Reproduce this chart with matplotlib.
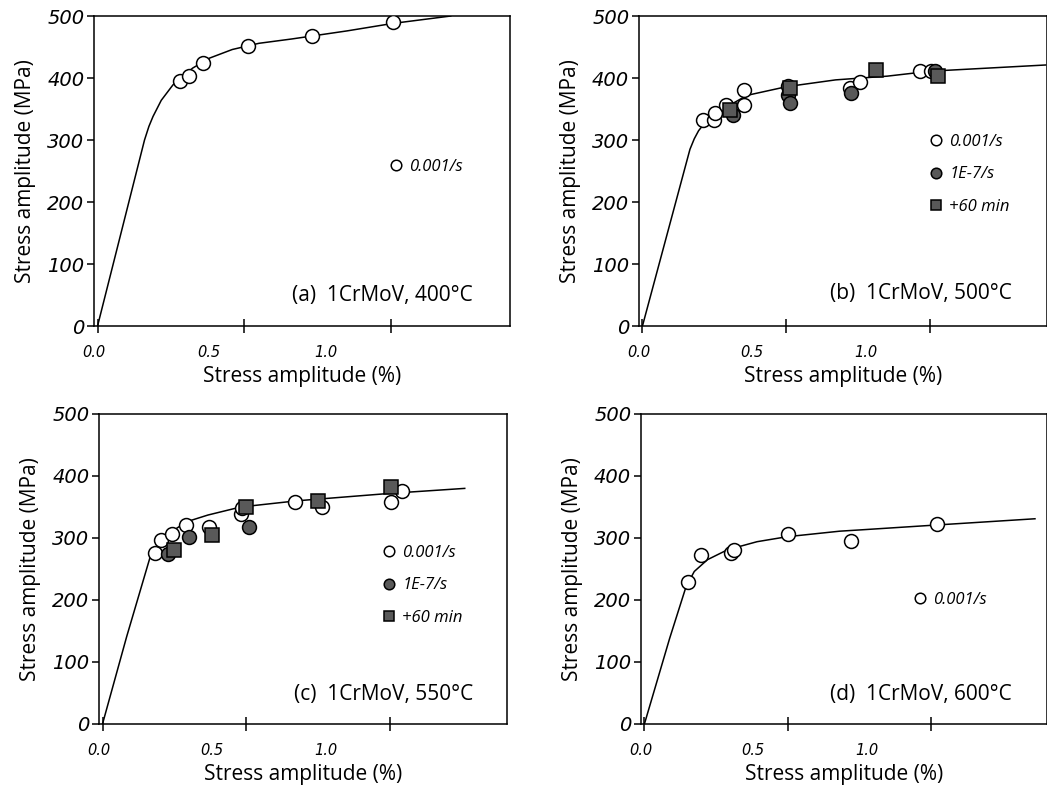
import matplotlib.pyplot as plt

# ---- data (strain %, stress MPa) ----
# (a) 400C
a_curve_x = [0, 0.160, 0.175, 0.189, 0.217, 0.257, 0.324, 0.381, 0.459, 0.55, 0.662, 0.85, 1.005, 1.203]
a_curve_y = [0, 300, 322, 338, 364, 389, 416, 432, 446, 456, 463, 476, 488, 500]
a_fast_x = [0.282, 0.310, 0.358, 0.512, 0.732, 1.005]
a_fast_y = [395, 404, 425, 451, 467, 491]

# (b) 500C
b_curve_x = [0, 0.165, 0.180, 0.195, 0.212, 0.240, 0.272, 0.363, 0.5, 0.671, 0.85, 1.0, 1.2, 1.40]
b_curve_y = [0, 285, 302, 315, 325, 337, 348, 372, 386, 397, 403, 411, 416, 421]
b_fast_x = [0.211, 0.247, 0.253, 0.291, 0.354, 0.354, 0.506, 0.720, 0.754, 0.963, 1.003]
b_fast_y = [333, 333, 344, 357, 380, 357, 387, 384, 393, 411, 411]
b_slow_x = [0.313, 0.506, 0.514, 0.725, 1.015]
b_slow_y = [340, 372, 360, 376, 412]
b_hold_x = [0.305, 0.514, 0.811, 1.025]
b_hold_y = [349, 384, 413, 403]

# (c) 550C
c_curve_x = [0, 0.084, 0.164, 0.187, 0.233, 0.291, 0.366, 0.480, 0.676, 1.0, 1.258]
c_curve_y = [0, 141, 267, 283, 308, 326, 337, 350, 360, 372, 380]
c_fast_x = [0.181, 0.202, 0.241, 0.290, 0.371, 0.480, 0.483, 0.669, 0.761, 1.002, 1.040]
c_fast_y = [276, 296, 306, 321, 318, 339, 348, 358, 350, 358, 376]
c_slow_x = [0.227, 0.302, 0.509]
c_slow_y = [274, 302, 318]
c_hold_x = [0.249, 0.380, 0.500, 0.750, 1.002]
c_hold_y = [281, 305, 350, 359, 383]

# (d) 600C
d_curve_x = [0, 0.088, 0.145, 0.174, 0.220, 0.290, 0.393, 0.497, 0.682, 0.752, 1.021, 1.363]
d_curve_y = [0, 138, 221, 246, 265, 281, 294, 302, 311, 313, 321, 331]
d_fast_x = [0.151, 0.197, 0.301, 0.312, 0.501, 0.720, 1.021]
d_fast_y = [229, 272, 276, 280, 307, 295, 323]

panel_text = ["(a)  1CrMoV, 400°C", "(b)  1CrMoV, 500°C",
              "(c)  1CrMoV, 550°C", "(d)  1CrMoV, 600°C"]
series_labels = ["0.001/s", "1E-7/s", "+60 min"]
tick_labels = ["0.0", "0.5", "1.0"]

LABEL_FONT = "Open Sans"
DARK = "#595959"

fig = plt.figure(figsize=(10.47, 7.89), dpi=100)

boxes = [
    [0.0898, 0.5868, 0.3973, 0.3929],
    [0.6103, 0.5868, 0.3897, 0.3929],
    [0.0946, 0.0824, 0.3897, 0.3929],
    [0.6122, 0.0824, 0.3878, 0.3929],
]
legend_pos = [(0.710, 0.538), (0.711, 0.620), (0.694, 0.578), (0.670, 0.426)]
text_pos = [(0.911, 0.10), (0.913, 0.106), (0.917, 0.094), (0.913, 0.094)]

panels = [
    (a_curve_x, a_curve_y, [(a_fast_x, a_fast_y)]),
    (b_curve_x, b_curve_y, [(b_fast_x, b_fast_y), (b_slow_x, b_slow_y), (b_hold_x, b_hold_y)]),
    (c_curve_x, c_curve_y, [(c_fast_x, c_fast_y), (c_slow_x, c_slow_y), (c_hold_x, c_hold_y)]),
    (d_curve_x, d_curve_y, [(d_fast_x, d_fast_y)]),
]
styles = [
    dict(marker="o", mfc="white", ms=10),
    dict(marker="o", mfc=DARK, ms=10),
    dict(marker="s", mfc=DARK, ms=9.5),
]

for i, (cx, cy, groups) in enumerate(panels):
    ax = fig.add_axes(boxes[i])
    ax.plot(cx, cy, color="black", lw=1.1, zorder=2)
    handles = []
    for j, (gx, gy) in enumerate(groups):
        h, = ax.plot(gx, gy, ls="none", mec="black", mew=1.1, zorder=3 + j,
                     label=series_labels[j], **styles[j])
        handles.append(h)

    ax.set_xlim(0, 1.405)
    ax.set_ylim(0, 500)

    # tick marks and their labels sit at different places in the original
    ax.set_xticks([0, 0.5, 1.0])
    ax.set_xticklabels([])
    ax.set_xticks([-0.012, 0.38, 0.776], minor=True)
    ax.set_xticklabels(tick_labels, minor=True, fontsize=10.5, style="italic")
    ax.tick_params(axis="x", which="major", direction="inout", length=10, width=1.1)
    ax.tick_params(axis="x", which="minor", length=0, pad=14)
    ax.set_yticks(range(0, 501, 100))
    ax.set_yticklabels([str(v) for v in range(0, 501, 100)], fontsize=14, style="italic")
    ax.tick_params(axis="y", direction="out", length=5, width=1.1, pad=2)
    for s in ax.spines.values():
        s.set_linewidth(1.1)

    ax.set_xlabel("Stress amplitude (%)", family=LABEL_FONT, fontsize=15, labelpad=4)
    ax.set_ylabel("Stress amplitude (MPa)", family=LABEL_FONT, fontsize=15, labelpad=8)

    ax.text(text_pos[i][0], text_pos[i][1], panel_text[i], transform=ax.transAxes,
            ha="right", va="center", family=LABEL_FONT, fontsize=15)

    ax.legend(handles=handles, loc="upper left", bbox_to_anchor=legend_pos[i],
              frameon=False, markerscale=0.76, handlelength=0.8, handletextpad=0.4,
              borderpad=0, borderaxespad=0, labelspacing=1.0,
              prop=dict(family=LABEL_FONT, style="italic", size=12))

fig.savefig("out.png", dpi=100)
